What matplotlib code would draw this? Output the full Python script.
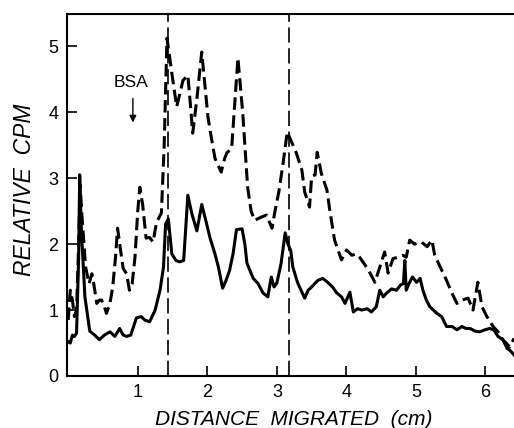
import matplotlib
matplotlib.use("Agg")
import matplotlib.pyplot as plt

# solid trace (distance in cm, relative cpm)
solid_x = [0.0, 0.03, 0.06, 0.09, 0.12, 0.15, 0.165, 0.19, 0.24, 0.31, 0.38, 0.45, 0.52, 0.6,
           0.67, 0.74, 0.79, 0.84, 0.9, 0.98, 1.05, 1.1, 1.17, 1.25, 1.32, 1.37, 1.40, 1.44,
           1.49, 1.55, 1.6, 1.66, 1.72, 1.78, 1.85, 1.92, 1.98, 2.04, 2.11, 2.16, 2.22, 2.27,
           2.32, 2.37, 2.42, 2.5, 2.54, 2.57, 2.66, 2.73, 2.8, 2.87, 2.92, 2.96, 3.0, 3.06,
           3.12, 3.16, 3.2, 3.23, 3.3, 3.4, 3.45, 3.5, 3.59, 3.66, 3.73, 3.8, 3.86, 3.93,
           3.98, 4.05, 4.1, 4.16, 4.22, 4.3, 4.36, 4.43, 4.48, 4.53, 4.58, 4.65, 4.72, 4.78,
           4.82, 4.84, 4.86, 4.9, 4.95, 5.01, 5.06, 5.1, 5.15, 5.2, 5.3, 5.37, 5.44, 5.52,
           5.59, 5.66, 5.72, 5.78, 5.85, 5.92, 5.99, 6.06, 6.12, 6.18, 6.25, 6.31, 6.36, 6.41]
solid_y = [0.52, 0.5, 0.62, 0.6, 0.65, 1.8, 3.05, 2.2, 1.2, 0.68, 0.62, 0.55, 0.62, 0.67,
           0.6, 0.72, 0.62, 0.6, 0.62, 0.88, 0.9, 0.85, 0.82, 1.0, 1.3, 1.65, 2.3, 2.38,
           1.85, 1.75, 1.73, 1.75, 2.74, 2.45, 2.2, 2.6, 2.35, 2.09, 1.85, 1.65, 1.33, 1.45,
           1.6, 1.85, 2.22, 2.23, 2.0, 1.71, 1.48, 1.4, 1.26, 1.2, 1.5, 1.35, 1.41, 1.7,
           2.17, 2.0, 1.9, 1.65, 1.41, 1.18, 1.3, 1.35, 1.45, 1.48, 1.42, 1.35, 1.26, 1.2,
           1.1, 1.27, 0.97, 1.02, 1.0, 1.02, 0.97, 1.05, 1.3, 1.2, 1.26, 1.32, 1.3, 1.38,
           1.4, 1.75, 1.3, 1.4, 1.5, 1.42, 1.48, 1.3, 1.15, 1.05, 0.95, 0.9, 0.75, 0.75,
           0.7, 0.75, 0.72, 0.72, 0.68, 0.67, 0.7, 0.72, 0.7, 0.6, 0.55, 0.42, 0.38, 0.32]

# dashed trace
dash_x = [0.0, 0.03, 0.06, 0.09, 0.12, 0.15, 0.17, 0.2, 0.25, 0.3, 0.34, 0.36, 0.41, 0.45,
          0.48, 0.52, 0.55, 0.6, 0.64, 0.68, 0.71, 0.74, 0.79, 0.84, 0.88, 0.92, 0.96, 1.0,
          1.03, 1.07, 1.12, 1.17, 1.22, 1.27, 1.34, 1.38, 1.42, 1.45, 1.49, 1.56, 1.61, 1.65,
          1.72, 1.75, 1.79, 1.85, 1.92, 2.01, 2.06, 2.11, 2.2, 2.25, 2.28, 2.35, 2.44, 2.51,
          2.58, 2.63, 2.68, 2.78, 2.85, 2.93, 2.97, 3.03, 3.09, 3.15, 3.19, 3.28, 3.36, 3.4,
          3.47, 3.5, 3.55, 3.58, 3.64, 3.72, 3.76, 3.83, 3.93, 4.0, 4.08, 4.14, 4.19, 4.27,
          4.34, 4.41, 4.48, 4.55, 4.6, 4.67, 4.74, 4.81, 4.86, 4.91, 4.98, 5.08, 5.16, 5.23,
          5.27, 5.35, 5.44, 5.52, 5.59, 5.66, 5.75, 5.82, 5.89, 5.95, 6.02, 6.11, 6.18, 6.25,
          6.35, 6.41]
dash_y = [0.85, 1.3, 1.15, 0.9, 1.0, 2.0, 2.9, 2.4, 1.65, 1.4, 1.55, 1.45, 1.1, 1.15,
          1.15, 1.05, 0.95, 1.1, 1.35, 1.8, 2.24, 2.0, 1.63, 1.55, 1.3, 1.4, 1.8, 2.5,
          2.86, 2.6, 2.09, 2.1, 2.03, 2.33, 2.47, 3.5, 5.12, 4.9, 4.59, 4.08, 4.3, 4.48,
          4.56, 4.2, 3.68, 4.2, 4.91, 3.92, 3.6, 3.3, 3.09, 3.3, 3.38, 3.45, 4.82, 3.98,
          2.86, 2.5, 2.36, 2.41, 2.44, 2.24, 2.48, 2.8, 3.23, 3.7, 3.6, 3.38, 3.12, 2.79,
          2.56, 3.02, 3.05, 3.39, 3.07, 2.82, 2.52, 2.06, 1.76, 1.91, 1.83, 1.85, 1.8, 1.68,
          1.56, 1.42, 1.65, 1.88, 1.56, 1.78, 1.8, 1.83, 1.8, 2.06, 2.0, 2.03, 1.96, 2.06,
          1.83, 1.65, 1.45, 1.25, 1.1, 1.15, 1.18, 1.0, 1.42, 1.05, 0.9, 0.75, 0.67, 0.55,
          0.44, 0.57]

markers_x = [1.43, 3.17]
yticks = [0, 1, 2, 3, 4, 5]
xticks = [1, 2, 3, 4, 5, 6]

plt.rcParams["font.family"] = "Liberation Sans"
plt.rcParams["lines.scale_dashes"] = False

fig = plt.figure(figsize=(5.14, 4.28), dpi=100)
ax = fig.add_axes([0.130, 0.1215, 0.870, 0.8455])

ax.plot(solid_x, solid_y, color="black", lw=2.2, solid_joinstyle="round")
ax.plot(dash_x, dash_y, color="black", lw=2.2, dashes=(9, 4))
for m in markers_x:
    ax.axvline(m, color="black", lw=1.2, dashes=(11, 4))

ax.annotate("", xy=(0.93, 3.8), xytext=(0.93, 4.25),
            arrowprops=dict(arrowstyle="-|>", color="black", lw=1.0,
                            mutation_scale=10))
ax.text(0.9, 4.45, "BSA", ha="center", va="center", fontsize=12.5)

ax.set_xlim(-0.02, 6.41)
ax.set_ylim(0, 5.485)
ax.set_xticks(xticks)
ax.set_yticks(yticks)
ax.tick_params(direction="in", length=7, width=1.2, labelsize=13, pad=6)
ax.spines["right"].set_visible(False)
for s in ["left", "bottom", "top"]:
    ax.spines[s].set_linewidth(1.5)

fig.text(0.047, 0.556, "RELATIVE  CPM", rotation=90, ha="center", va="center",
         fontsize=16.5, style="italic")
fig.text(0.572, 0.021, "DISTANCE  MIGRATED  (cm)", ha="center", va="center",
         fontsize=15, style="italic")

fig.savefig("out.png", dpi=100)
